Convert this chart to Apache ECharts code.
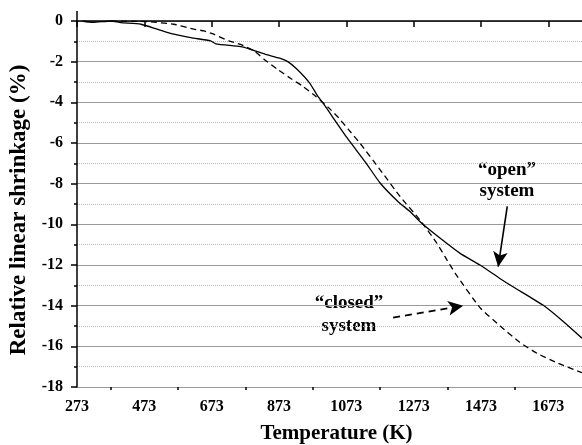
<!DOCTYPE html>
<html>
<head>
<meta charset="utf-8">
<script src="https://cdn.jsdelivr.net/npm/echarts@6/dist/echarts.min.js"></script>
<style>
  html, body { margin: 0; padding: 0; background: #fff; }
  #main { width: 582px; height: 445px; }
</style>
</head>
<body>
<div id="main"></div>
<script>
// "open" system (solid)
var openT = [289, 320, 374, 403, 463, 513, 561, 611, 670, 685, 759, 788, 833, 875, 899, 925, 963, 988, 1003, 1075, 1130, 1174, 1227, 1263, 1297, 1352, 1411, 1470, 1529, 1568, 1657, 1719, 1773];
var openS = [0, -0.07, 0, -0.08, -0.16, -0.41, -0.65, -0.82, -0.98, -1.12, -1.26, -1.39, -1.64, -1.83, -2.0, -2.35, -3.03, -3.69, -4.02, -5.74, -6.95, -7.98, -8.89, -9.38, -9.95, -10.69, -11.43, -12.0, -12.66, -13.07, -13.97, -14.8, -15.6];
// "closed" system (dashed)
var closedT = [374, 483, 561, 620, 650, 679, 724, 759, 799, 829, 869, 909, 943, 981, 1020, 1050, 1079, 1114, 1174, 1233, 1292, 1342, 1366, 1396, 1470, 1530, 1588, 1640, 1698, 1773];
var closedS = [0, -0.03, -0.16, -0.4, -0.49, -0.65, -0.98, -1.15, -1.47, -1.89, -2.38, -2.84, -3.2, -3.69, -4.26, -4.76, -5.33, -6.02, -7.33, -8.64, -9.79, -10.93, -11.59, -12.4, -14.1, -15.0, -15.8, -16.35, -16.8, -17.3];

var xLabels = [273, 473, 673, 873, 1073, 1273, 1473, 1673];
var xMinor = [373, 573, 773, 973, 1173, 1373, 1573];

// annotation arrows [from, to] in data units
var openArrow = [[1551, -9.12], [1524, -12.08]];
var closedArrow = [[1212, -14.59], [1420, -14.0]];

function zip(a, b) {
  var out = [];
  for (var i = 0; i < a.length; i++) out.push([a[i], b[i]]);
  return out;
}

var FONT = '"Liberation Serif", "Times New Roman", serif';
var lbl = { color: '#000', fontFamily: FONT, fontWeight: 'bold', fontSize: 16, formatter: function (v) { return String(v); } };
var note = 'bold 19px ' + FONT;

var chart = echarts.init(document.getElementById('main'));
chart.setOption({
  animation: false,
  backgroundColor: '#fff',
  grid: { left: 77, right: 0, top: 21, bottom: 58, outerBoundsMode: 'none', containLabel: false },
  xAxis: [{
    type: 'value', min: 273, max: 1773,
    name: 'Temperature (K)', nameLocation: 'middle', nameGap: 36,
    nameTextStyle: { color: '#000', fontFamily: FONT, fontWeight: 'bold', fontSize: 21, padding: [0, 0, 0, 14] },
    axisLine: { lineStyle: { color: '#000', width: 1.5 } },
    axisTick: { show: true, length: 6, customValues: xLabels, lineStyle: { color: '#000', width: 1.5 } },
    axisLabel: Object.assign({ customValues: xLabels, margin: 12 }, lbl),
    splitLine: { show: false }
  }, {
    // minor ticks only
    type: 'value', min: 273, max: 1773, position: 'bottom',
    axisLine: { show: false },
    axisTick: { show: true, length: 3, customValues: xMinor, lineStyle: { color: '#000', width: 1.5 } },
    axisLabel: { show: false },
    splitLine: { show: false }
  }],
  yAxis: {
    type: 'value', min: -18, max: 0, interval: 2,
    name: 'Relative linear shrinkage (%)', nameLocation: 'middle', nameGap: 46,
    nameTextStyle: { color: '#000', fontFamily: FONT, fontWeight: 'bold', fontSize: 23, padding: [0, 12, 0, 0] },
    axisLine: { show: true, lineStyle: { color: '#000', width: 1.5 } },
    axisTick: { show: true, length: 6, lineStyle: { color: '#000', width: 1.5 } },
    minorTick: { show: true, splitNumber: 2, length: 3, lineStyle: { color: '#000', width: 1.5 } },
    axisLabel: Object.assign({ margin: 14 }, lbl),
    splitLine: { show: true, lineStyle: { color: '#999', width: 1.2 } },
    minorSplitLine: { show: true, lineStyle: { color: '#bbb', width: 1, type: [1, 1] } }
  },
  graphic: [
    { type: 'line', shape: { x1: 77, y1: 11, x2: 77, y2: 21 }, style: { stroke: '#000', lineWidth: 1.5 } },
    { type: 'text', x: 507, y: 170, style: { text: '\u201copen\u201d', font: note, fill: '#000', align: 'center', verticalAlign: 'middle' } },
    { type: 'text', x: 507, y: 191, style: { text: 'system', font: note, fill: '#000', align: 'center', verticalAlign: 'middle' } },
    { type: 'text', x: 349, y: 303, style: { text: '\u201cclosed\u201d', font: note, fill: '#000', align: 'center', verticalAlign: 'middle' } },
    { type: 'text', x: 349, y: 326, style: { text: 'system', font: note, fill: '#000', align: 'center', verticalAlign: 'middle' } }
  ],
  series: [{
    name: 'open', type: 'line', data: zip(openT, openS),
    showSymbol: false, smooth: 0.2,
    lineStyle: { color: '#000', width: 1.3 },
    markLine: {
      silent: true, symbol: ['none', 'arrow'], symbolSize: [11, 15],
      label: { show: false },
      lineStyle: { color: '#000', width: 1.6, type: 'solid' },
      data: [[{ coord: openArrow[0] }, { coord: openArrow[1] }]]
    }
  }, {
    name: 'closed', type: 'line', data: zip(closedT, closedS),
    showSymbol: false, smooth: 0.15,
    lineStyle: { color: '#000', width: 1.3, type: [6, 4] },
    markLine: {
      silent: true, symbol: ['none', 'arrow'], symbolSize: [11, 15],
      label: { show: false },
      lineStyle: { color: '#000', width: 1.8, type: [7, 5] },
      data: [[{ coord: closedArrow[0] }, { coord: closedArrow[1] }]]
    }
  }]
});
</script>
</body>
</html>
